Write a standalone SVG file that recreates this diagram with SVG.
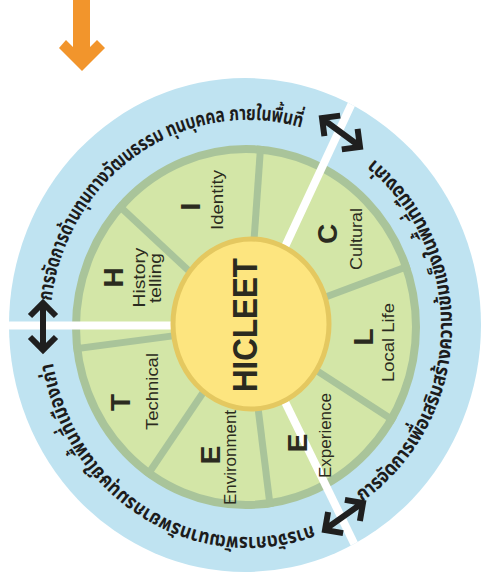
<svg xmlns="http://www.w3.org/2000/svg" width="485" height="585" viewBox="0 0 485 585">
<style>
.lbl{font-family:"Liberation Sans",Arial,sans-serif;fill:#2b2b20;text-anchor:middle}
.big{font-size:28px;font-weight:bold}
.sm{font-size:17px}
.thai{font-family:"Noto Sans Thai","Noto Sans Thai Looped","Loma","Garuda","Noto Sans","Liberation Sans",sans-serif;font-size:20px;font-weight:bold;fill:#1c1c1c}
.spoke{stroke:#a9c49a;stroke-width:7}
.wl{stroke:#ffffff;stroke-width:8}
.dbl{fill:none;stroke:#1f1f1f;stroke-width:6;stroke-linejoin:miter}
</style>
<defs>
<clipPath id="clipGreen"><ellipse cx="246" cy="327" rx="174" ry="182"/></clipPath>
<clipPath id="clipBlue"><ellipse cx="245" cy="325" rx="236" ry="247"/></clipPath>
<path id="arcTop" d="M 51.5 300.9 A 198 206 0 0 1 312.5 131.2"/>
<path id="arcRight" d="M 362.1 501.7 A 204 212 0 0 0 365 152.3"/>
<path id="arcBottom" d="M 312.5 525.5 A 198 211 0 0 1 52.4 359"/>
</defs>
<rect width="485" height="585" fill="#ffffff"/>

<g id="outer-ring">
<ellipse cx="245" cy="325" rx="236" ry="247" fill="#bfe3f1"/>
</g>
<g id="inner-ring">
<ellipse cx="246" cy="327" rx="170" ry="178" fill="#d3e6a7" stroke="#a9c49a" stroke-width="8"/>
</g>

<g id="connectors">
<g clip-path="url(#clipGreen)">
<line class="spoke" x1="196.8" y1="278.3" x2="109" y2="196.4"/>
<line class="spoke" x1="252.9" y1="256.2" x2="261.3" y2="136.5"/>
<line class="spoke" x1="313.6" y1="301.5" x2="426" y2="259.5"/>
<line class="spoke" x1="306.7" y1="364.1" x2="407.4" y2="429.5"/>
<line class="spoke" x1="256.5" y1="395.5" x2="271.2" y2="514.6"/>
<line class="spoke" x1="208.9" y1="384" x2="141.8" y2="483.5"/>
<line class="spoke" x1="178.6" y1="335.1" x2="59.6" y2="350.8"/>
</g>
<g clip-path="url(#clipBlue)">
<line class="wl" x1="277.6" y1="262.6" x2="357.9" y2="90.4"/>
<line class="wl" x1="278.7" y1="388.9" x2="362" y2="559.7"/>
<line class="wl" x1="178" y1="325.5" x2="0" y2="325.5"/>
</g>
<path class="dbl" d="M43 305 V348 M30 316 L43 303 L56 316 M30 337 L43 350 L56 337"/>
<path class="dbl" d="M324 120 L358 145 M324.4 136.2 L322 118 L340.2 115.6 M341.8 149.4 L360 147 L357.6 128.8"/>
<path class="dbl" d="M327 528 L361 504 M343.1 533.1 L325 530 L328.1 511.9 M359.9 521.1 L363 503 L344.9 499.9"/>
<polygon id="orange-arrow" points="73,0 90,0 90,47 97,40 105,48 82,71 59,48 66,40 73,47" fill="#f2952c"/>
</g>

<g id="center">
<ellipse cx="251" cy="324" rx="78" ry="85" fill="#fde57f" stroke="#e4c860" stroke-width="5"/>
<text class="lbl" font-size="35" font-weight="bold" transform="translate(257,325) rotate(-90)" textLength="134" lengthAdjust="spacingAndGlyphs">HICLEET</text>
</g>

<g id="seg-H">
<text class="lbl big" transform="translate(123,277.5) rotate(-90)">H</text>
<text class="lbl sm" transform="translate(145,277.5) rotate(-90)" textLength="60" lengthAdjust="spacingAndGlyphs">History</text>
<text class="lbl sm" transform="translate(161,278) rotate(-90)" textLength="50" lengthAdjust="spacingAndGlyphs">telling</text>
</g>
<g id="seg-I">
<text class="lbl big" transform="translate(200,206.5) rotate(-90)">I</text>
<text class="lbl sm" transform="translate(223,200) rotate(-90)" textLength="60" lengthAdjust="spacingAndGlyphs">Identity</text>
</g>
<g id="seg-C">
<text class="lbl big" transform="translate(337,234) rotate(-90)">C</text>
<text class="lbl sm" transform="translate(362,239) rotate(-90)" textLength="62" lengthAdjust="spacingAndGlyphs">Cultural</text>
</g>
<g id="seg-L">
<text class="lbl big" transform="translate(373,337) rotate(-90)">L</text>
<text class="lbl sm" transform="translate(394,342.5) rotate(-90)" textLength="79" lengthAdjust="spacingAndGlyphs">Local Life</text>
</g>
<g id="seg-E-experience">
<text class="lbl big" transform="translate(307,443) rotate(-90)">E</text>
<text class="lbl sm" transform="translate(331,435.5) rotate(-90)" textLength="85" lengthAdjust="spacingAndGlyphs">Experience</text>
</g>
<g id="seg-E-environment">
<text class="lbl big" transform="translate(220,455) rotate(-90)">E</text>
<text class="lbl sm" transform="translate(236,457.5) rotate(-90)" textLength="95" lengthAdjust="spacingAndGlyphs">Environment</text>
</g>
<g id="seg-T">
<text class="lbl big" transform="translate(130,402.5) rotate(-90)">T</text>
<text class="lbl sm" transform="translate(157.5,391.5) rotate(-90)" textLength="77" lengthAdjust="spacingAndGlyphs">Technical</text>
</g>

<g id="arc-texts">
<text class="thai"><textPath href="#arcTop" textLength="346" lengthAdjust="spacingAndGlyphs">การจัดการด้านทุนทางวัฒนธรรม ทุนบุคคล ภายในพื้นที่</textPath></text>
<text class="thai"><textPath href="#arcRight" textLength="395" lengthAdjust="spacingAndGlyphs">การจัดการเพื่อเสริมสร้างความเข้มแข็งในพื้นที่เมืองเก่า</textPath></text>
<text class="thai"><textPath href="#arcBottom" textLength="350" lengthAdjust="spacingAndGlyphs">การจัดการพัฒนาทรัพยากรมนุษย์ในพื้นที่เมืองเก่า</textPath></text>
</g>
</svg>
